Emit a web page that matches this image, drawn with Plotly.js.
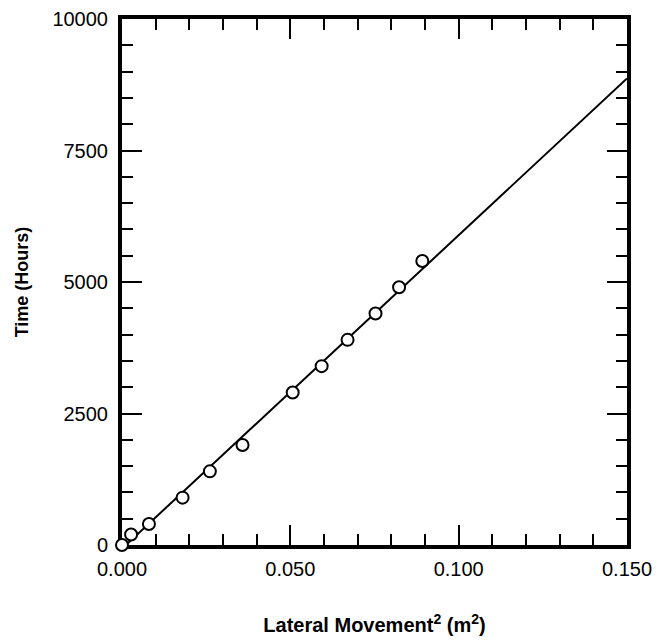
<!DOCTYPE html>
<html>
<head>
<meta charset="utf-8">
<script src="https://cdn.plot.ly/plotly-3.0.1.min.js"></script>
<style>html,body{margin:0;padding:0;background:#fff;}#chart{width:657px;height:641px;}</style>
</head>
<body>
<div id="chart"></div>
<script>
// Measured points: lateral movement squared (m^2) vs time (hours)
var movementSq = [0.000, 0.0027, 0.0080, 0.0180, 0.0261, 0.0358, 0.0507, 0.0593, 0.0670, 0.0753, 0.0823, 0.0892];
var timeHours  = [0, 200, 400, 900, 1400, 1900, 2900, 3400, 3900, 4400, 4900, 5400];
// Fitted line end points
var fitX = [0.000, 0.150];
var fitY = [-70, 8870];
var xTickVals = [0, 0.05, 0.10, 0.15];
var xTickText = ["0.000", "0.050", "0.100", "0.150"];
var yTickVals = [0, 2500, 5000, 7500, 10000];
var yTickText = ["0", "2500", "5000", "7500", "10000"];

var font = "Liberation Sans, Arial, sans-serif";

var traces = [
  {x: fitX, y: fitY, mode: "lines", type: "scatter",
   line: {color: "#000", width: 2}, hoverinfo: "skip", showlegend: false},
  {x: movementSq, y: timeHours, mode: "markers", type: "scatter", cliponaxis: false,
   marker: {symbol: "circle", size: 12, color: "#fff", line: {color: "#000", width: 2}},
   showlegend: false}
];

var axisCommon = {
  showline: true, linecolor: "#000", linewidth: 4, mirror: "ticks",
  ticks: "inside", ticklen: 20, tickwidth: 2, tickcolor: "#000",
  showgrid: false, zeroline: false, layer: "below traces",
  tickfont: {family: font, size: 20, color: "#000"}
};

var layout = {
  width: 657, height: 641,
  margin: {l: 122, r: 30, t: 19, b: 96},
  paper_bgcolor: "#fff", plot_bgcolor: "#fff",
  xaxis: Object.assign({}, axisCommon, {
    range: [0, 0.15], tickmode: "array", tickvals: xTickVals, ticktext: xTickText,
    minor: {dtick: 0.01, ticks: "inside", ticklen: 11, tickwidth: 2, tickcolor: "#000", showgrid: false},
    ticklabelstandoff: 3,
    title: {text: "Lateral Movement<sup>2</sup> (m<sup>2</sup>)", standoff: 40,
            font: {family: font, size: 20, color: "#000", weight: "bold"}}
  }),
  yaxis: Object.assign({}, axisCommon, {
    range: [0, 10000], tickmode: "array", tickvals: yTickVals, ticktext: yTickText,
    minor: {dtick: 500, ticks: "inside", ticklen: 11, tickwidth: 2, tickcolor: "#000", showgrid: false},
    ticklabelstandoff: 6,
    title: {text: "Time (Hours)", standoff: 20,
            font: {family: font, size: 18, color: "#000", weight: "bold"}}
  })
};

Plotly.newPlot("chart", traces, layout, {displayModeBar: false, staticPlot: true});
</script>
</body>
</html>
